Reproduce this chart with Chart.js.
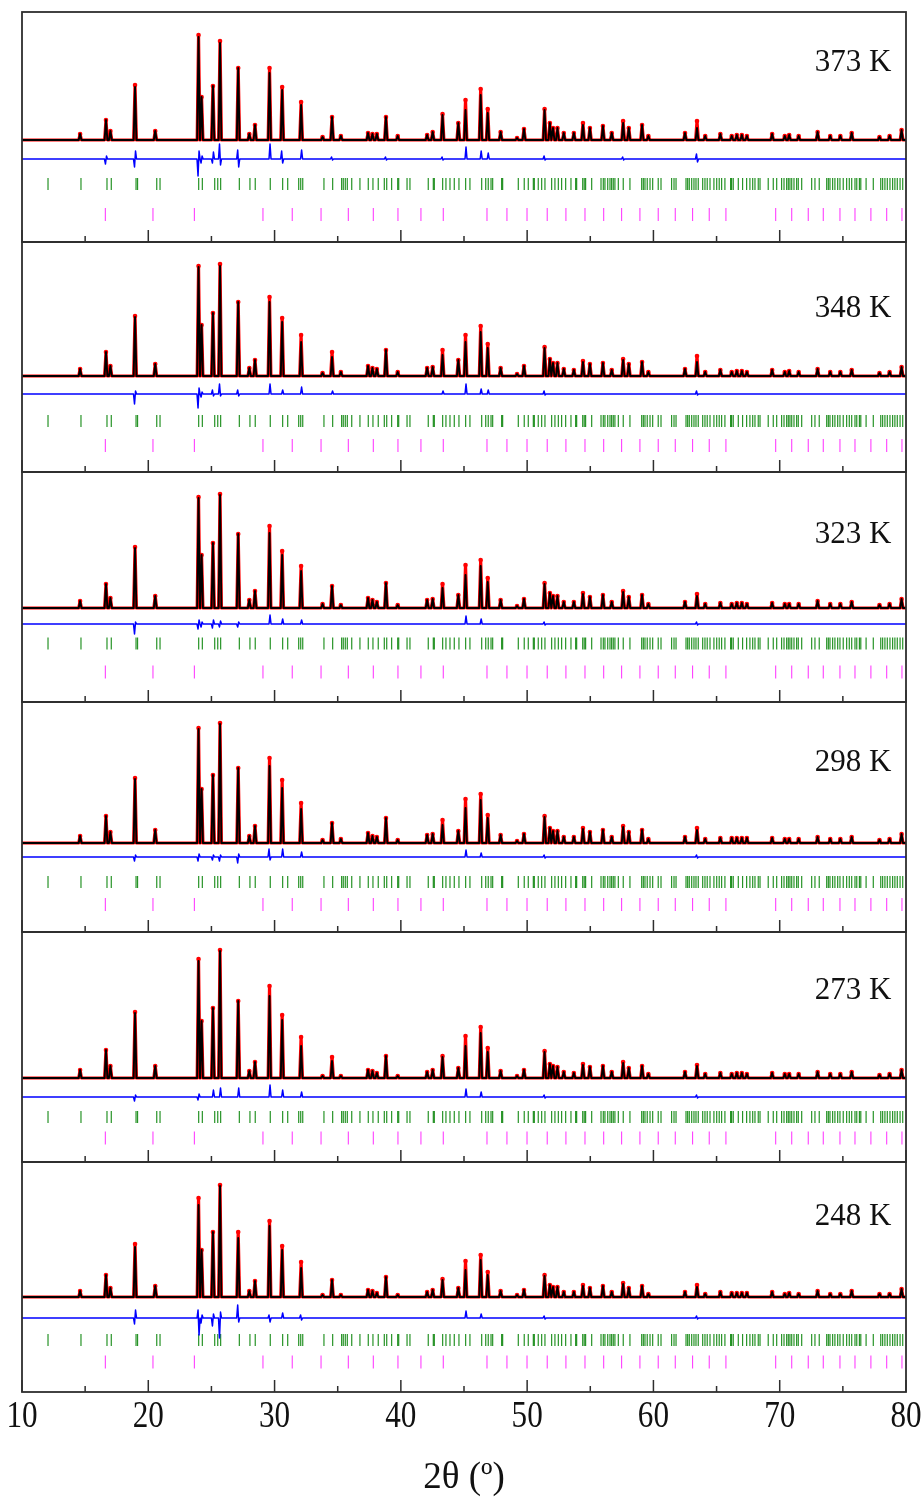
<!DOCTYPE html>
<html>
<head>
<meta charset="utf-8">
<script src="https://cdn.jsdelivr.net/npm/chart.js@4.4.1/dist/chart.umd.min.js"></script>
<style>
  html, body { margin: 0; padding: 0; background: #ffffff; }
  #stack { position: relative; width: 921px; height: 1497px; }
  #stack canvas { position: absolute; left: 0; top: 0; }
</style>
</head>
<body>
<div id="stack"></div>
<script>
// ---- temperatures of the six refinements (top to bottom) ----
const temperatures = ['373 K', '348 K', '323 K', '298 K', '273 K', '248 K'];

// ---- 2θ axis ----
const xMajorTicks = [10, 20, 30, 40, 50, 60, 70, 80];
const xTickLabels = ['10', '20', '30', '40', '50', '60', '70', '80'];
const xMinorTicks = [15, 25, 35, 45, 55, 65, 75];
const xTitle = '2θ (º)';

// ---- reflection positions in the profiles (2θ, degrees) ----
const peakPos = [14.6, 16.65, 17.0, 18.95, 20.55, 23.98, 24.22, 25.12, 25.68, 27.12,
  28.0, 28.45, 29.6, 30.6, 32.1, 33.8, 34.55, 35.25, 37.4, 37.75,
  38.1, 38.82, 39.75, 42.08, 42.52, 43.3, 44.55, 45.12, 46.32, 46.88,
  47.9, 49.2, 49.75, 51.38, 51.8, 52.05, 52.4, 52.9, 53.7, 54.42,
  54.97, 56.0, 56.7, 57.6, 58.05, 59.1, 59.6, 62.5, 63.45, 64.1,
  65.3, 66.2, 66.6, 67.0, 67.4, 69.4, 70.4, 70.75, 71.5, 73.0,
  74.0, 74.8, 75.7, 77.9, 78.7, 79.65];

// ---- calculated (Ycalc) and observed (Yobs) peak intensities, a.u. ----
const calc373 = [6, 20, 9, 53, 9, 103, 43, 54, 97, 72, 6, 15, 67, 50, 35, 3, 23, 4, 7, 6,
  6, 23, 4, 5, 8, 25, 17, 30, 45, 27, 8, 2, 11, 30, 17, 12, 12, 7, 7, 15,
  12, 14, 7, 17, 12, 15, 4, 7, 12, 4, 6, 4, 5, 5, 4, 6, 4, 5, 4, 8, 4, 4, 7, 3, 4, 10];
const obs373 = [6, 20, 9, 55, 9, 105, 43, 54, 99, 72, 6, 15, 72, 53, 38, 3, 23, 4, 7, 6,
  6, 23, 4, 5, 8, 26, 17, 40, 51, 31, 8, 2, 11, 31, 17, 12, 12, 7, 7, 17,
  12, 14, 7, 19, 12, 15, 4, 7, 19, 4, 6, 4, 5, 5, 4, 6, 4, 5, 4, 8, 4, 4, 7, 3, 4, 10];

const calc348 = [7, 24, 10, 59, 12, 109, 51, 63, 110, 74, 8, 16, 74, 54, 34, 3, 19, 4, 10, 8,
  7, 26, 4, 8, 9, 21, 16, 34, 44, 28, 8, 2, 10, 28, 17, 13, 13, 7, 6, 14,
  12, 13, 6, 16, 12, 14, 4, 7, 14, 4, 6, 4, 5, 5, 4, 6, 4, 5, 4, 7, 4, 4, 6, 3, 4, 9];
const obs348 = [7, 24, 10, 60, 12, 110, 51, 63, 112, 74, 8, 16, 79, 58, 41, 3, 24, 4, 10, 8,
  7, 26, 4, 8, 9, 26, 16, 41, 50, 32, 8, 2, 10, 29, 17, 13, 13, 7, 6, 15,
  12, 13, 6, 17, 12, 14, 4, 7, 20, 4, 6, 4, 5, 5, 4, 6, 4, 5, 4, 7, 4, 4, 6, 3, 4, 9];

const calc323 = [7, 24, 10, 60, 12, 110, 53, 65, 113, 74, 8, 17, 75, 53, 37, 4, 22, 3, 10, 8,
  6, 25, 3, 8, 9, 20, 13, 33, 42, 26, 8, 2, 9, 24, 15, 12, 12, 6, 6, 14,
  11, 13, 6, 16, 11, 13, 4, 6, 12, 4, 5, 4, 5, 5, 4, 5, 4, 4, 4, 7, 4, 4, 6, 3, 4, 9];
const obs323 = [7, 24, 10, 61, 12, 111, 53, 65, 114, 74, 8, 17, 82, 57, 42, 4, 22, 3, 10, 8,
  6, 25, 3, 8, 9, 24, 13, 43, 48, 30, 8, 2, 9, 25, 15, 12, 12, 6, 6, 15,
  11, 13, 6, 17, 11, 13, 4, 6, 14, 4, 5, 4, 5, 5, 4, 5, 4, 4, 4, 7, 4, 4, 6, 3, 4, 9];

const calc298 = [7, 27, 11, 64, 13, 114, 54, 68, 119, 75, 7, 17, 77, 55, 34, 3, 20, 4, 10, 7,
  6, 25, 3, 8, 9, 18, 12, 35, 43, 25, 8, 2, 9, 26, 15, 12, 12, 6, 6, 14,
  11, 13, 6, 16, 11, 13, 4, 6, 13, 4, 5, 5, 5, 5, 5, 5, 4, 4, 4, 6, 4, 4, 6, 3, 4, 9];
const obs298 = [7, 27, 11, 65, 13, 115, 54, 68, 120, 75, 7, 17, 85, 63, 40, 3, 20, 4, 10, 7,
  6, 25, 3, 8, 9, 23, 12, 44, 49, 28, 8, 2, 9, 27, 15, 12, 12, 6, 6, 15,
  11, 13, 6, 17, 11, 13, 4, 6, 15, 4, 5, 5, 5, 5, 5, 5, 4, 4, 4, 6, 4, 4, 6, 3, 4, 9];

const calc273 = [8, 28, 12, 65, 12, 117, 57, 70, 127, 77, 7, 16, 82, 58, 32, 2, 17, 2, 8, 7,
  5, 22, 2, 6, 8, 21, 10, 32, 45, 26, 7, 2, 8, 26, 14, 12, 11, 6, 5, 13,
  11, 12, 6, 15, 10, 12, 4, 6, 12, 4, 5, 4, 5, 5, 4, 5, 4, 4, 4, 6, 4, 4, 6, 3, 4, 8];
const obs273 = [8, 28, 12, 66, 12, 119, 57, 70, 128, 77, 7, 16, 92, 63, 41, 2, 21, 2, 8, 7,
  5, 22, 2, 6, 8, 22, 10, 42, 51, 30, 7, 2, 8, 27, 14, 12, 11, 6, 5, 14,
  11, 12, 6, 16, 10, 12, 4, 6, 13, 4, 5, 4, 5, 5, 4, 5, 4, 4, 4, 6, 4, 4, 6, 3, 4, 8];

const calc248 = [6, 22, 9, 50, 11, 92, 47, 65, 111, 59, 6, 16, 71, 47, 29, 2, 17, 2, 7, 6,
  4, 20, 2, 5, 7, 17, 9, 27, 37, 22, 6, 2, 7, 21, 12, 10, 10, 5, 5, 11,
  9, 11, 5, 13, 9, 11, 3, 5, 10, 3, 5, 4, 4, 4, 4, 5, 3, 4, 3, 6, 3, 3, 6, 3, 3, 8];
const obs248 = [6, 22, 9, 53, 11, 99, 47, 65, 112, 65, 6, 16, 76, 51, 35, 2, 17, 2, 7, 6,
  4, 20, 2, 5, 7, 18, 9, 36, 42, 25, 6, 2, 7, 22, 12, 10, 10, 5, 5, 12,
  9, 11, 5, 14, 9, 11, 3, 5, 12, 3, 5, 4, 4, 4, 4, 5, 3, 4, 3, 6, 3, 3, 6, 3, 3, 8];

// ---- difference curve (Yobs - Ycalc) excursions: [2θ, first, second] ----
const diff373 = [[16.65, -5, 3], [18.95, -8, 8], [23.98, -17, 8], [24.22, -4, 3], [25.12, -4, 7],
  [25.68, 15, -6], [27.12, 9, -8], [29.6, 0, 15], [30.6, 8, -4], [32.1, 0, 9], [34.55, 2, -1],
  [38.82, 2, -1], [43.3, 2, -1], [45.12, 0, 12], [46.32, 0, 8], [46.88, 0, 6], [51.38, 3, -1],
  [57.6, 2, -1], [63.45, 5, -3]];
const diff348 = [[18.95, -10, 3], [23.98, -14, 6], [24.22, -3, 2], [25.12, 4, -2], [25.68, 10, -2],
  [27.12, 4, -2], [29.6, 0, 10], [30.6, 0, 4], [32.1, 0, 7], [34.55, 0, 3], [43.3, 0, 3],
  [45.12, 0, 10], [46.32, 0, 5], [46.88, 0, 4], [51.38, 3, -1], [63.45, 3, -1]];
const diff323 = [[18.95, -10, 2], [23.98, -5, 4], [24.22, -3, 2], [25.12, -4, 4], [25.68, -3, 3],
  [27.12, -3, 2], [29.6, 0, 9], [30.6, 0, 5], [32.1, 0, 4], [45.12, 0, 8], [46.32, 0, 5],
  [51.38, 2, -1], [63.45, 2, -1]];
const diff298 = [[18.95, -4, 2], [23.98, -4, 3], [25.12, -3, 2], [25.68, -4, 2], [27.12, -6, 3],
  [29.6, 8, -3], [30.6, 0, 8], [32.1, 0, 5], [45.12, 0, 7], [46.32, 0, 4], [51.38, 2, -1],
  [63.45, 2, -1]];
const diff273 = [[18.95, -4, 2], [23.98, -3, 3], [25.12, 0, 7], [25.68, 0, 9], [27.12, 0, 9],
  [29.6, 0, 12], [30.6, 0, 7], [32.1, 0, 5], [45.12, 0, 8], [46.32, 0, 5], [51.38, 2, -1],
  [63.45, 2, -1]];
const diff248 = [[18.95, -6, 8], [23.98, 8, -17], [24.22, -5, 3], [25.12, -8, 4], [25.68, -20, 6],
  [27.12, 13, -4], [29.6, 3, -4], [30.6, 0, 5], [32.1, 3, -2], [45.12, 0, 7], [46.32, 0, 4],
  [51.38, 2, -1], [63.45, 2, -1]];

// ---- Bragg reflection markers of the two phases (2θ) ----
const phase1Ticks = [12.06, 14.67, 16.73, 17.07, 19.03, 19.15, 20.67, 20.93, 23.99, 24.28,
  25.26, 25.50, 25.73, 27.21, 28.05, 28.47, 29.66, 30.64, 31.04, 31.91, 32.07, 32.23,
  33.91, 34.60, 35.31, 35.44, 35.60, 35.76, 36.11, 36.76, 37.42, 37.79, 38.21, 38.69, 38.88,
  39.27, 39.75, 39.83, 40.49, 40.72, 42.17, 42.57, 42.65, 43.31, 43.57, 43.89, 44.23, 44.60,
  45.13, 45.47, 46.40, 46.72, 46.92, 47.14, 47.27, 47.98, 48.06, 49.30, 49.77, 50.09, 50.49,
  50.57, 50.88, 51.15, 51.41, 51.94, 52.20, 52.47, 52.73, 53.05, 53.47, 53.84, 53.92, 54.40,
  54.52, 54.63, 55.11, 55.85, 56.03, 56.16, 56.38, 56.56, 56.69, 56.82, 56.95, 57.22, 57.61,
  58.14, 59.07, 59.20, 59.33, 59.51, 59.73, 59.94, 60.38, 60.60, 61.44, 61.63, 61.79, 62.58,
  62.71, 62.84, 63.03, 63.21, 63.37, 63.55, 63.90, 64.08, 64.26, 64.48, 64.79, 65.01, 65.21,
  65.40, 65.66, 66.11, 66.19, 66.32, 66.72, 67.06, 67.38, 67.64, 67.86, 68.04, 68.30, 68.44,
  69.09, 69.49, 69.76, 70.15, 70.34, 70.55, 70.68, 70.81, 70.95, 71.13, 71.34, 71.47, 71.74,
  72.53, 72.79, 73.13, 73.72, 73.85, 73.98, 74.19, 74.37, 74.59, 74.77, 75.03, 75.30, 75.51,
  75.70, 75.96, 76.10, 76.31, 76.42, 76.84, 77.41, 78.00, 78.15, 78.33, 78.52, 78.73, 78.94,
  79.12, 79.31, 79.53, 79.74];
const phase2Ticks = [16.60, 20.37, 23.65, 29.08, 31.40, 33.68, 35.84, 37.82, 39.77, 41.59,
  43.36, 46.82, 48.40, 49.99, 51.59, 53.07, 54.58, 56.06, 57.48, 58.93, 60.38, 61.73, 63.10,
  64.42, 65.74, 69.68, 70.95, 72.26, 73.45, 74.77, 75.96, 77.22, 78.47, 79.68];

const panels = [
  { calc: calc373, obs: obs373, diff: diff373 },
  { calc: calc348, obs: obs348, diff: diff348 },
  { calc: calc323, obs: obs323, diff: diff323 },
  { calc: calc298, obs: obs298, diff: diff298 },
  { calc: calc273, obs: obs273, diff: diff273 },
  { calc: calc248, obs: obs248, diff: diff248 }
];

// ---- layout: each panel is 230 px tall; offsets are in px (1 a.u. = 1 px) ----
const PAGE_W = 921, PAGE_H = 1497;
const FRAME_LEFT = 22, FRAME_RIGHT = 906, FRAME_TOP = 12, PANEL_H = 230;
const panelLayout = [
  { base: 128, diffOff: 19, phase1Off: 44, phase2Off: 74.5, labelFromTop: 51 },
  { base: 134, diffOff: 18, phase1Off: 45, phase2Off: 69.5, labelFromTop: 67 },
  { base: 136, diffOff: 16, phase1Off: 35.5, phase2Off: 64, labelFromTop: 63 },
  { base: 141, diffOff: 14, phase1Off: 39, phase2Off: 61.5, labelFromTop: 61 },
  { base: 146, diffOff: 19, phase1Off: 39, phase2Off: 60, labelFromTop: 59 },
  { base: 135, diffOff: 21, phase1Off: 43, phase2Off: 65, labelFromTop: 55 }
];

const HALF_BASE = 0.11;  // half width of a reflection at its foot (deg)

function profilePoints(heights) {
  const pts = [{ x: 10, y: 0 }];
  peakPos.forEach((p, i) => {
    pts.push({ x: p - HALF_BASE, y: 0 }, { x: p, y: heights[i], top: true }, { x: p + HALF_BASE, y: 0 });
  });
  pts.push({ x: 80, y: 0 });
  return pts;
}

function diffPoints(features, off) {
  const pts = [{ x: 10, y: -off }];
  features.forEach(([p, a, b]) => {
    pts.push({ x: p - 0.12, y: -off }, { x: p - 0.04, y: a - off }, { x: p + 0.04, y: b - off }, { x: p + 0.12, y: -off });
  });
  pts.push({ x: 80, y: -off });
  return pts;
}

// frame, inward ticks, temperature tag and (bottom panel) the 2θ axis text
const framePlugin = {
  id: 'panelFrame',
  afterDatasetsDraw(chart, args, opts) {
    const { ctx, chartArea: a, scales: { x, y } } = chart;
    ctx.save();
    ctx.strokeStyle = '#2e2e2e';
    ctx.lineWidth = 1.8;
    ctx.strokeRect(a.left, a.top, a.right - a.left, a.bottom - a.top);
    ctx.lineWidth = 1.5;
    ctx.beginPath();
    xMajorTicks.forEach(v => {
      const px = x.getPixelForValue(v);
      ctx.moveTo(px, a.bottom); ctx.lineTo(px, a.bottom - 12);
    });
    xMinorTicks.forEach(v => {
      const px = x.getPixelForValue(v);
      ctx.moveTo(px, a.bottom); ctx.lineTo(px, a.bottom - 6);
    });
    ctx.stroke();

    ctx.fillStyle = '#111';
    ctx.font = '31px "Liberation Serif", "Times New Roman", serif';
    ctx.textAlign = 'right';
    ctx.textBaseline = 'middle';
    ctx.fillText(opts.label, x.getPixelForValue(78.85), y.getPixelForValue(opts.labelY));

    if (opts.axisText) {
      ctx.textAlign = 'center';
      ctx.font = '38px "Liberation Serif", "Times New Roman", serif';
      xMajorTicks.forEach((v, i) => {
        ctx.save();
        ctx.translate(x.getPixelForValue(v), a.bottom + 25);
        ctx.scale(0.82, 1);
        ctx.fillText(xTickLabels[i], 0, 0);
        ctx.restore();
      });
      ctx.font = '37px "Liberation Serif", "Times New Roman", serif';
      ctx.fillText(xTitle, (a.left + a.right) / 2, a.bottom + 86);
    }
    ctx.restore();
  }
};

const stack = document.getElementById('stack');
panels.forEach((pd, i) => {
  const L = panelLayout[i];
  const top = FRAME_TOP + i * PANEL_H;
  const cv = document.createElement('canvas');
  cv.width = PAGE_W; cv.height = PAGE_H;
  cv.style.width = PAGE_W + 'px'; cv.style.height = PAGE_H + 'px';
  stack.appendChild(cv);

  new Chart(cv, {
    type: 'line',
    data: {
      datasets: [
        {
          label: 'Ycalc', data: profilePoints(pd.calc), order: 0,
          borderColor: '#000000', borderWidth: 1.9, pointRadius: 0, tension: 0,
          borderJoinStyle: 'round', borderCapStyle: 'round'
        },
        {
          label: 'Yobs', data: profilePoints(pd.obs), order: 1,
          borderColor: '#ff0000', borderWidth: 3.2, tension: 0,
          borderJoinStyle: 'round', borderCapStyle: 'round',
          pointRadius: c => (c.raw && c.raw.top ? 2.3 : 0),
          pointBackgroundColor: '#ff0000', pointBorderWidth: 0
        },
        {
          label: 'Yobs-Ycalc', data: diffPoints(pd.diff, L.diffOff), order: 2,
          borderColor: '#0000ff', borderWidth: 1.5, pointRadius: 0, tension: 0,
          borderJoinStyle: 'round'
        },
        {
          type: 'scatter', label: 'Bragg phase 1', order: 3,
          data: phase1Ticks.map(v => ({ x: v, y: -L.phase1Off })),
          pointStyle: 'line', rotation: 90, pointRadius: 6,
          borderColor: 'rgba(0, 128, 0, 0.85)', borderWidth: 1.2
        },
        {
          type: 'scatter', label: 'Bragg phase 2', order: 4,
          data: phase2Ticks.map(v => ({ x: v, y: -L.phase2Off })),
          pointStyle: 'line', rotation: 90, pointRadius: 6.5,
          borderColor: '#ff40ff', borderWidth: 1.1
        }
      ]
    },
    options: {
      responsive: false,
      animation: false,
      devicePixelRatio: 1,
      layout: { padding: { left: FRAME_LEFT, right: PAGE_W - FRAME_RIGHT, top: top, bottom: PAGE_H - top - PANEL_H } },
      scales: {
        x: { type: 'linear', min: 10, max: 80, display: false },
        y: { type: 'linear', min: L.base - PANEL_H, max: L.base, display: false }
      },
      plugins: {
        legend: { display: false },
        tooltip: { enabled: false },
        panelFrame: { label: temperatures[i], labelY: L.base - L.labelFromTop, axisText: i === panels.length - 1 }
      }
    },
    plugins: [framePlugin]
  });
});
</script>
</body>
</html>
